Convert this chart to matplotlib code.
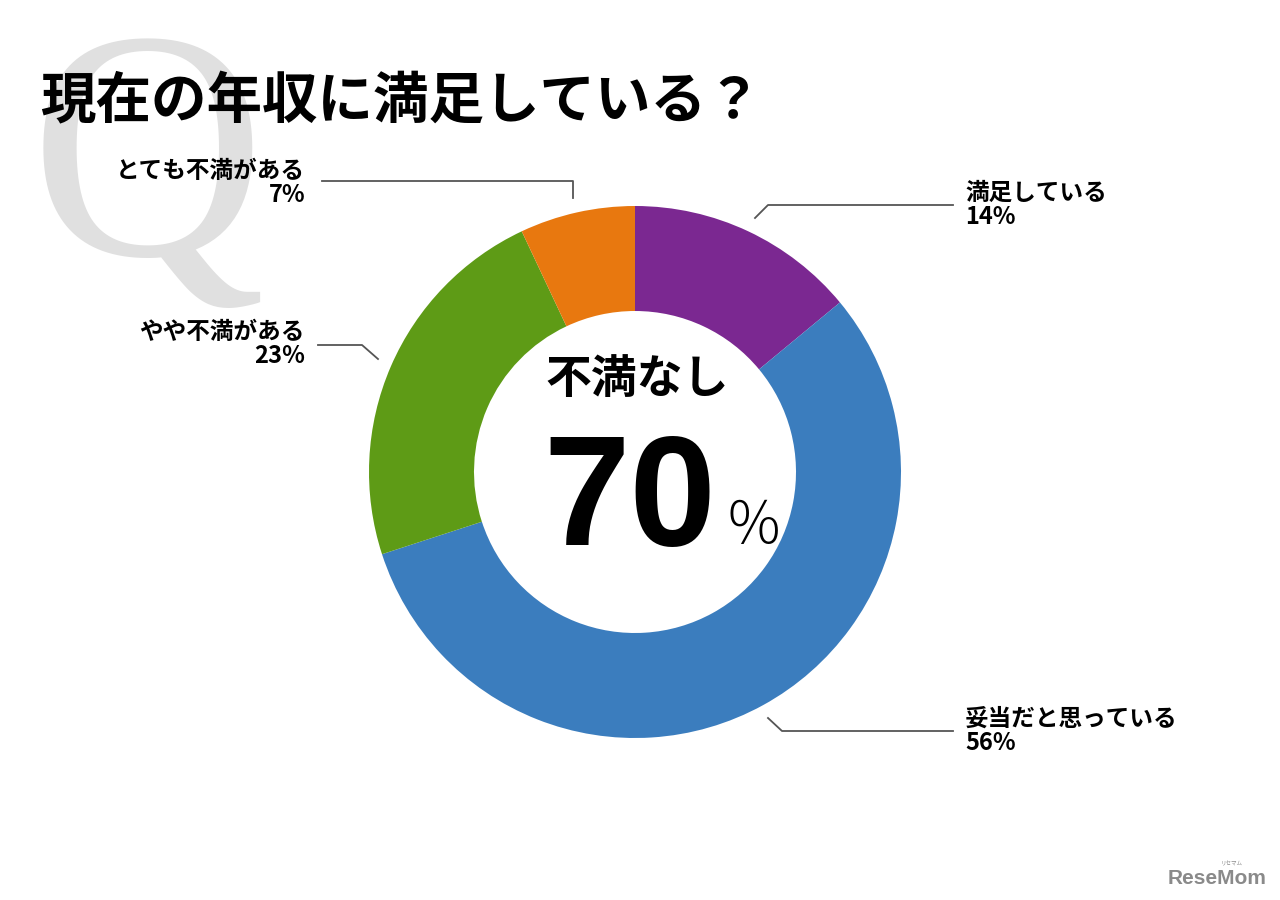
import matplotlib.pyplot as plt

plt.rcParams['font.family'] = ['Noto Sans CJK JP', 'DejaVu Sans']

# data
labels = ["満足している", "妥当だと思っている", "やや不満がある", "とても不満がある"]
values = [14, 56, 23, 7]
colors = ["#7B2891", "#3B7DBE", "#5E9B16", "#E8780F"]
title = "現在の年収に満足している？"
center_label = "不満なし"
center_value = "70"

W, H = 1280, 900


def py(y):
    # pixel row from the top -> data y
    return H - y


fig = plt.figure(figsize=(12.8, 9), dpi=100)
ax = fig.add_axes([0, 0, 1, 1])

# big watermark Q
ax.text(30, py(255), "Q", fontsize=235, color="#E0E0E0", family="Liberation Serif",
        ha="left", va="baseline", zorder=0)

ax.text(40, py(102), title, fontsize=40, fontweight="bold", color="black",
        ha="left", va="center", zorder=3)

# donut
cx, cy, r_out, r_in = 635, py(472), 266, 161
ax.pie(values, colors=colors, startangle=90, counterclock=False,
       center=(cx, cy), radius=r_out,
       wedgeprops=dict(width=r_out - r_in, linewidth=0))

ax.set_xlim(0, W)
ax.set_ylim(0, H)
ax.set_aspect("equal")
ax.axis("off")

# center text
ax.text(cx + 2, py(380), center_label, fontsize=33, fontweight="bold",
        ha="center", va="center")
ax.text(630, py(545), center_value, fontsize=112, fontweight="bold",
        family="Liberation Sans", ha="center", va="baseline")
ax.text(725, py(544), "％", fontsize=42, fontweight="light",
        ha="left", va="baseline")

# labels with leader lines
lc = "#555555"
lw = 1.3
fs = 17
ax.plot([322, 573, 573], [py(181), py(181), py(198)], color=lc, lw=lw)
ax.text(305, py(183), f"{labels[3]}\n{values[3]}%", fontsize=fs, fontweight="bold",
        ha="right", va="center", linespacing=1.05, multialignment="right")

ax.plot([755, 768, 953], [py(218), py(205), py(205)], color=lc, lw=lw)
ax.text(965, py(205), f"{labels[0]}\n{values[0]}%", fontsize=fs, fontweight="bold",
        ha="left", va="center", linespacing=1.05)

ax.plot([318, 362, 378], [py(345), py(345), py(359)], color=lc, lw=lw)
ax.text(305, py(344), f"{labels[2]}\n{values[2]}%", fontsize=fs, fontweight="bold",
        ha="right", va="center", linespacing=1.05, multialignment="right")

ax.plot([768, 782, 953], [py(718), py(731), py(731)], color=lc, lw=lw)
ax.text(965, py(731), f"{labels[1]}\n{values[1]}%", fontsize=fs, fontweight="bold",
        ha="left", va="center", linespacing=1.05)

# logo
ax.text(1168, py(878), "ReseMom", fontsize=15, fontweight="bold", color="#8A8A8A",
        family="Liberation Sans", ha="left", va="center")
ax.text(1232, py(864), "リセマム", fontsize=4, color="#8A8A8A", ha="center", va="center")

fig.savefig("out.png", dpi=100, facecolor="white")
